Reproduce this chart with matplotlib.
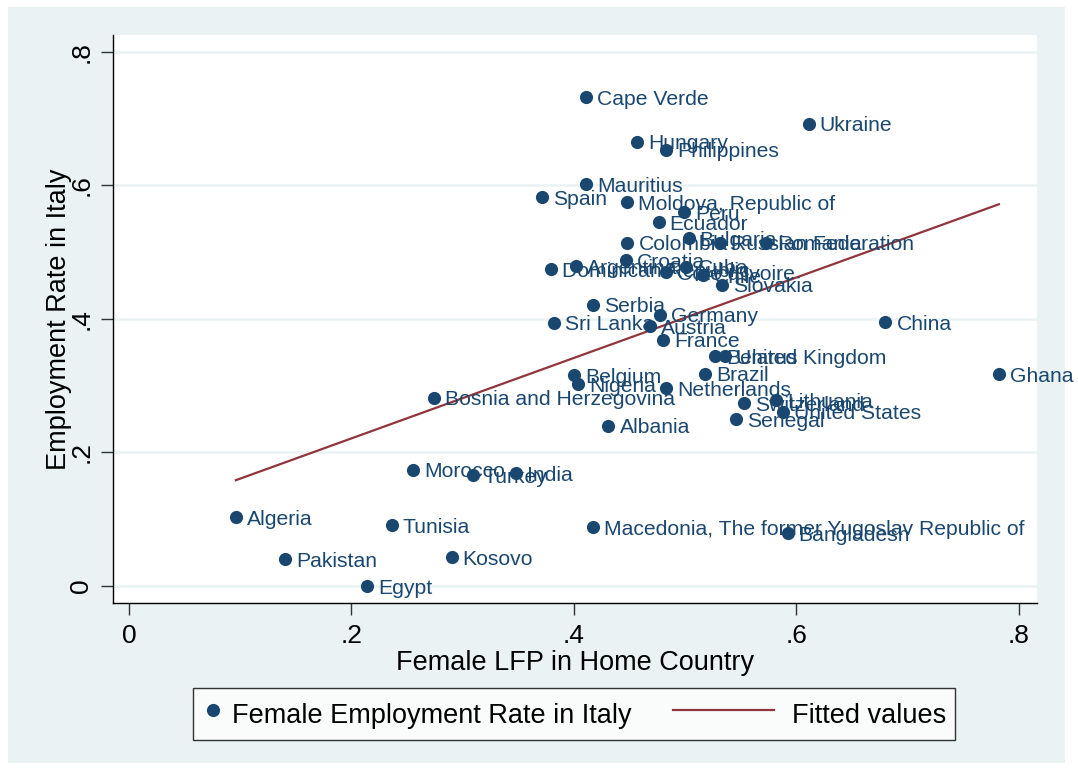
import numpy as np
import matplotlib
matplotlib.use("Agg")
import matplotlib.pyplot as plt
from matplotlib.patches import Rectangle
from matplotlib.legend_handler import HandlerLine2D

plt.rcParams['font.family'] = ['Liberation Sans', 'DejaVu Sans']

# country, female LFP in home country, female employment rate in Italy
countries = [
    "Cape Verde", "Ukraine", "Hungary", "Philippines", "Mauritius", "Spain",
    "Moldova, Republic of", "Peru", "Ecuador", "Bulgaria", "Colombia",
    "Russian Federation", "Romania", "Croatia", "Argentina", "Dominican Republic",
    "Cote d'Ivoire", "Cuba", "Chile", "Slovakia", "Serbia", "Germany",
    "Sri Lanka", "Austria", "France", "Belarus", "United Kingdom", "Brazil",
    "Belgium", "Nigeria", "Netherlands", "Bosnia and Herzegovina", "Albania",
    "Switzerland", "Lithuania", "United States", "Senegal", "China", "Ghana",
    "Morocco", "Turkey", "India", "Algeria", "Tunisia",
    "Macedonia, The former Yugoslav Republic of", "Bangladesh", "Pakistan",
    "Kosovo", "Egypt",
]
female_lfp = [
    0.411, 0.611, 0.457, 0.483, 0.411, 0.371,
    0.448, 0.499, 0.476, 0.503, 0.448,
    0.531, 0.573, 0.447, 0.402, 0.379,
    0.483, 0.501, 0.516, 0.533, 0.417, 0.477,
    0.382, 0.468, 0.480, 0.527, 0.536, 0.518,
    0.400, 0.404, 0.483, 0.274, 0.431,
    0.553, 0.582, 0.588, 0.546, 0.680, 0.782,
    0.255, 0.309, 0.348, 0.096, 0.236,
    0.417, 0.592, 0.140,
    0.290, 0.214,
]
emp_rate_italy = [
    0.732, 0.692, 0.665, 0.653, 0.602, 0.582,
    0.575, 0.560, 0.545, 0.521, 0.514,
    0.514, 0.514, 0.488, 0.479, 0.474,
    0.470, 0.478, 0.465, 0.451, 0.421, 0.406,
    0.394, 0.389, 0.369, 0.344, 0.344, 0.318,
    0.316, 0.302, 0.296, 0.282, 0.240,
    0.274, 0.278, 0.261, 0.250, 0.395, 0.317,
    0.174, 0.166, 0.169, 0.103, 0.091,
    0.088, 0.079, 0.040,
    0.043, 0.000,
]

x = np.array(female_lfp)
y = np.array(emp_rate_italy)
slope, intercept = np.polyfit(x, y, 1)
fit_x = np.array([x.min(), x.max()])
fit_y = intercept + slope * fit_x

navy = "#1a476f"
maroon = "#90353b"
bg = "#eaf2f3"


# legend line reaches back into the column gap, like Stata draws it
class LongLine(HandlerLine2D):
    def create_artists(self, legend, orig_handle, xdescent, ydescent,
                       width, height, fontsize, trans):
        arts = super().create_artists(legend, orig_handle, xdescent, ydescent,
                                      width, height, fontsize, trans)
        arts[0].set_xdata(np.linspace(-xdescent - 64, -xdescent + width - 7, 3))
        return arts


fig = plt.figure(figsize=(10.78, 7.71), dpi=100, facecolor="white")
fig.patches.append(Rectangle((8 / 1078, 1 - 763 / 771), 1057 / 1078, 756 / 771,
                             transform=fig.transFigure, facecolor=bg,
                             edgecolor="none", zorder=-10))
ax = fig.add_axes([0.1045, 0.2183, 0.8572, 0.7363])
ax.set_facecolor("white")

pts = ax.scatter(x, y, s=90, color=navy, zorder=3, linewidths=0,
                 label="Female Employment Rate in Italy")
for name, xi, yi in zip(countries, x, y):
    ax.annotate(name, (xi, yi), xytext=(8, -1.5), textcoords="offset points",
                va="center", ha="left", fontsize=15.2, color=navy, zorder=4)
fit_line, = ax.plot(fit_x, fit_y, color=maroon, lw=1.6, zorder=2,
                    label="Fitted values")

ax.set_xlim(-0.0147, 0.816)
ax.set_ylim(-0.025, 0.825)
ticks = [0, 0.2, 0.4, 0.6, 0.8]
tick_labels = ["0", ".2", ".4", ".6", ".8"]
ax.set_xticks(ticks)
ax.set_xticklabels(tick_labels)
ax.set_yticks(ticks)
ax.set_yticklabels(tick_labels, rotation=90, va="center")
ax.tick_params(labelsize=19, length=8.5, width=1, color="#333333")
ax.tick_params(axis="x", pad=7)
ax.tick_params(axis="y", pad=5.5)
ax.grid(axis="y", color=bg, lw=1.8, zorder=0)
ax.grid(axis="x", visible=False)
for s in ["top", "right"]:
    ax.spines[s].set_visible(False)
for s in ["left", "bottom"]:
    ax.spines[s].set_color("black")
    ax.spines[s].set_linewidth(1)

ax.set_xlabel("Female LFP in Home Country", fontsize=19.5, labelpad=1)
ax.set_ylabel("Employment Rate in Italy", fontsize=19.5, labelpad=-2)

leg = fig.legend([pts, fit_line], ["Female Employment Rate in Italy", "Fitted values"],
                 loc="center", bbox_to_anchor=(0.5325, 0.074), ncol=2,
                 fontsize=19.5, frameon=True, fancybox=False, edgecolor="black",
                 handlelength=0.8, handleheight=1.55, columnspacing=4.8,
                 handletextpad=0.3, borderpad=0.33, markerscale=1,
                 handler_map={fit_line: LongLine()})
leg.get_frame().set_linewidth(1)

fig.savefig("out.png", dpi=100, facecolor="white")
